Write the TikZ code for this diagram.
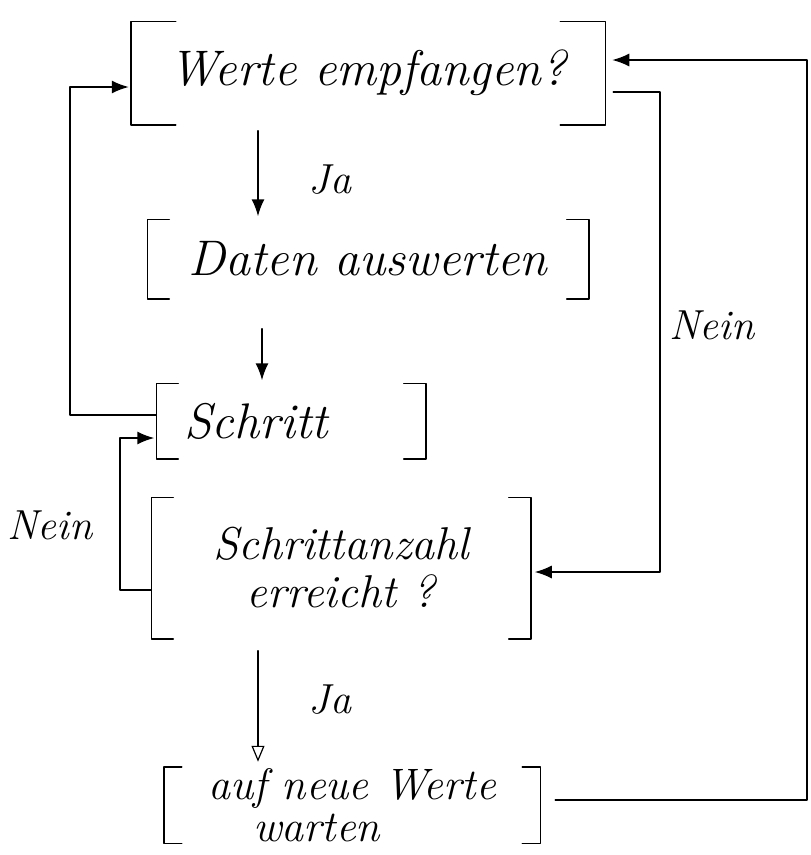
\documentclass[tikz,border=0pt]{standalone}
\usetikzlibrary{arrows.meta}
\newcommand\drawbrackets[2]{%
  \draw ([xshift=#2]#1.north west) -- (#1.north west) -- (#1.south west) -- ([xshift=#2]#1.south west);
  \draw ([xshift=-#2]#1.north east) -- (#1.north east) -- (#1.south east) -- ([xshift=-#2]#1.south east);}
\begin{document}
\begin{tikzpicture}[x=1pt,y=-1pt,
  line width=1.5pt, line cap=round, line join=round,
  box/.style={inner sep=0pt, font=\fontsize{50}{58}\selectfont\itshape, align=center},
  twoline/.style={font=\fontsize{46}{48}\selectfont\itshape},
  lbl/.style={font=\fontsize{42}{46}\selectfont\itshape, inner sep=0pt},
  arr/.style={-{Latex[length=17pt,width=13pt]}},
  oarr/.style={-{Triangle[open,length=16pt,width=13pt,line width=1.2pt]}}]
\useasboundingbox (0,0) rectangle (811,855);

\node[box, minimum width=473pt, minimum height=102pt] (W) at (368,73) {Werte empfangen?};
\node[box, minimum width=440pt, minimum height=78pt] (D) at (368,259) {Daten auswerten};
\node[box, minimum width=268pt, minimum height=74pt] (S) at (291,421) {Schritt\hspace*{70pt}};
\node[box, twoline, minimum width=378pt, minimum height=140pt] (Sa) at (341,568) {Schrittanzahl\\erreicht ?};
\node[box, twoline, font=\fontsize{44}{42}\selectfont\itshape, minimum width=375pt, minimum height=75pt, align=left] (A) at (352,805) {auf neue Werte\\\hspace*{45pt}warten};

\drawbrackets{W}{45pt}
\drawbrackets{D}{22pt}
\drawbrackets{S}{22pt}
\drawbrackets{Sa}{22pt}
\drawbrackets{A}{18pt}

% labels
\node[lbl] (ja1) at (330,180) {Ja};
\node[lbl] (ja2) at (330,700) {Ja};
\node[lbl] (nein1) at (50,525) {Nein};
\node[lbl] (nein2) at (712,325) {Nein};

% waypoints
\coordinate (xl) at (70,0);
\coordinate (xn) at (120,0);
\coordinate (xr) at (660,0);
\coordinate (xo) at (807,0);
\path (W.south) ++(-110,0) coordinate (j1);
\path (D.south) ++(-106,0) coordinate (j2);
\path (Sa.south) ++(-83,0) coordinate (j3);
\path (W.west) ++(0,14) coordinate (win);
\path (S.west) ++(0,-6) coordinate (sout);
\path (S.west) ++(0,17) coordinate (sin);
\path (Sa.west) ++(0,22) coordinate (saout);
\path (Sa.east) ++(0,4) coordinate (sain);
\path (W.east) ++(8,19) coordinate (wout);
\path (W.east) ++(0,-13) coordinate (wret);
\path (A.east) ++(15,-5) coordinate (aout);

% connectors
\draw[arr, shorten <=6pt, shorten >=3pt] (j1) -- (j1 |- D.north);
\draw[arr, shorten <=30pt, shorten >=3pt] (j2) -- (j2 |- S.north);
\draw[oarr, shorten <=12pt, shorten >=5pt] (j3) -- (j3 |- A.north);
\draw[arr, shorten >=2pt] (sout) -- (sout -| xl) -- (xl |- win) -- (win);
\draw[arr, shorten >=2pt] (saout) -- (saout -| xn) -- (xn |- sin) -- (sin);
\draw[arr, shorten >=4pt] (wout) -- (wout -| xr) -- (xr |- sain) -- (sain);
\draw[arr, shorten >=7pt] (aout) -- (aout -| xo) -- (xo |- wret) -- (wret);
\end{tikzpicture}
\end{document}
